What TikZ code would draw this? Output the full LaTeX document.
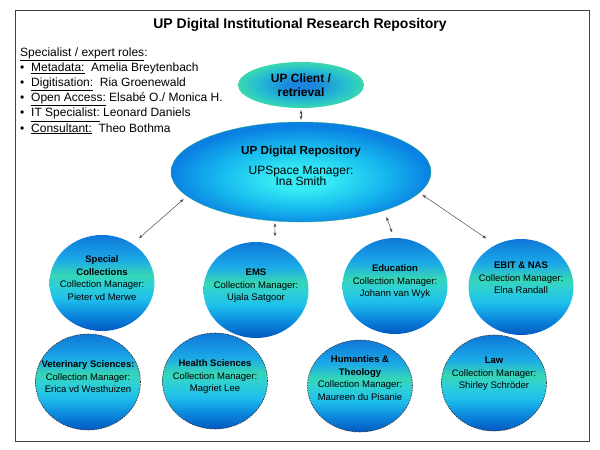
\documentclass[tikz,border=0pt]{standalone}
\usepackage{fontspec}
\setmainfont{Liberation Sans}
\usetikzlibrary{shapes.geometric,arrows.meta}

\definecolor{collTop}{HTML}{0E78D8}
\definecolor{collMid}{HTML}{1BA8E8}
\definecolor{collGreen}{HTML}{36D6B6}
\definecolor{collAqua}{HTML}{2ED0D4}
\definecolor{collCyan}{HTML}{1EC0EC}
\definecolor{collLow}{HTML}{0A86DC}
\definecolor{collBot}{HTML}{0458C2}
\definecolor{repCore}{HTML}{34E8F4}
\definecolor{repMid}{HTML}{16B8EE}
\definecolor{repEdge}{HTML}{0A80E2}
\definecolor{repRim}{HTML}{2AA890}
\definecolor{cliCore}{HTML}{1A84DE}
\definecolor{cliMid}{HTML}{26C0D0}
\definecolor{cliEdge}{HTML}{3AD8AE}

\pgfdeclareverticalshading{collshade}{100bp}{color(0bp)=(collBot);
  color(25bp)=(collBot); color(33bp)=(collLow); color(42bp)=(collCyan);
  color(49bp)=(collAqua); color(54bp)=(collGreen); color(62.5bp)=(collMid);
  color(75bp)=(collTop); color(100bp)=(collTop)}
\pgfdeclareradialshading{repshade}{\pgfpoint{0bp}{-4bp}}{color(0bp)=(repCore);
  color(6bp)=(repCore); color(16bp)=(repMid); color(25bp)=(repEdge);
  color(50bp)=(repEdge)}
\pgfdeclareradialshading{clientshade}{\pgfpoint{0bp}{0bp}}{color(0bp)=(cliCore);
  color(5bp)=(cliCore); color(18bp)=(cliMid); color(25bp)=(cliEdge);
  color(50bp)=(cliEdge)}

\begin{document}
\begin{tikzpicture}[x=1pt, y=-1pt,
  coll/.style={ellipse, minimum width=105pt, minimum height=96pt,
    inner ysep=0pt, inner xsep=-12pt, text depth=10pt,
    shade, shading=collshade, align=center,
    font=\fontsize{9.5}{12.5}\selectfont},
  lowcoll/.style={coll, draw=black!80, line width=0.6pt,
    dash pattern=on 1.6pt off 1pt},
  link/.style={{Stealth[length=4pt,width=3pt]}-{Stealth[length=4pt,width=3pt]},
    draw=black!70, line width=0.5pt}]
\useasboundingbox (0,0) rectangle (600,450);
\draw[black!75, line width=0.8pt] (15,10) rectangle (589,441);

\node[font=\bfseries\fontsize{14}{16}\selectfont] (title) at (300,25)
  {UP Digital Institutional Research Repository};

\node[anchor=north west, align=left, inner sep=0pt,
  font=\fontsize{12}{15.2}\selectfont] (roles) at (20,47.2)
  {\underline{Specialist / expert roles}:\\
   \makebox[11pt][l]{•}\underline{Metadata:}\ \ Amelia Breytenbach\\
   \makebox[11pt][l]{•}\underline{Digitisation:}\ \ Ria Groenewald\\
   \makebox[11pt][l]{•}\underline{Open Access:} Elsabé O./ Monica H.\\
   \makebox[11pt][l]{•}\underline{IT Specialist:} Leonard Daniels\\
   \makebox[11pt][l]{•}\underline{Consultant:}\ \ Theo Bothma};

\node[ellipse, minimum width=126pt, minimum height=46pt, inner sep=0pt,
  shade, shading=clientshade, align=center,
  font=\bfseries\fontsize{12}{14}\selectfont] (client) at (301,85)
  {UP Client /\\retrieval};
\node[ellipse, minimum width=260pt, minimum height=100pt, inner sep=0pt,
  text depth=12pt, shade, shading=repshade, draw=repRim, line width=0.4pt,
  align=center, font={\fontsize{12}{11}\selectfont\lineskiplimit=-20pt}]
  (rep) at (301,172)
  {{\bfseries\fontsize{11.7}{11}\selectfont UP Digital Repository}\\[9pt]
   UPSpace Manager:\\Ina Smith};

\node[coll] (spec) at (102,283)
  {\textbf{Special}\\\textbf{Collections}\\Collection Manager:\\Pieter vd Merwe};
\node[coll] (ems) at (256,290)
  {\textbf{EMS}\\Collection Manager:\\Ujala Satgoor};
\node[coll] (edu) at (395,286)
  {\textbf{Education}\\Collection Manager:\\Johann van Wyk};
\node[coll, text depth=18pt] (ebit) at (521,287)
  {\textbf{EBIT \& NAS}\\Collection Manager:\\Elna Randall};

\node[lowcoll] (vet) at (88,382)
  {\textbf{Veterinary Sciences:}\\Collection Manager:\\Erica vd Westhuizen};
\node[lowcoll] (health) at (215,381)
  {\textbf{Health Sciences}\\Collection Manager:\\Magriet Lee};
\node[lowcoll, minimum height=92pt, text depth=16pt] (hum) at (360,386)
  {\textbf{Humanties \&}\\\textbf{Theology}\\Collection Manager:\\Maureen du Pisanie};
\node[lowcoll, text depth=20pt] (law) at (494,383)
  {\textbf{Law}\\Collection Manager:\\Shirley Schröder};

\draw[link, shorten <=2pt, shorten >=2pt] (client.south) -- (rep.north);
\draw[link, shorten <=8.4pt, shorten >=4.4pt] (spec.52) -- (rep.192);
\draw[link, shorten <=8.7pt, shorten >=2pt] (ems.67) -- (rep.242);
\draw[link, shorten <=5.8pt, shorten >=6.8pt] (edu.91) -- (rep.335);
\draw[link, shorten <=11.3pt, shorten >=3.6pt] (ebit.121) -- (rep.350);
\end{tikzpicture}
\end{document}
